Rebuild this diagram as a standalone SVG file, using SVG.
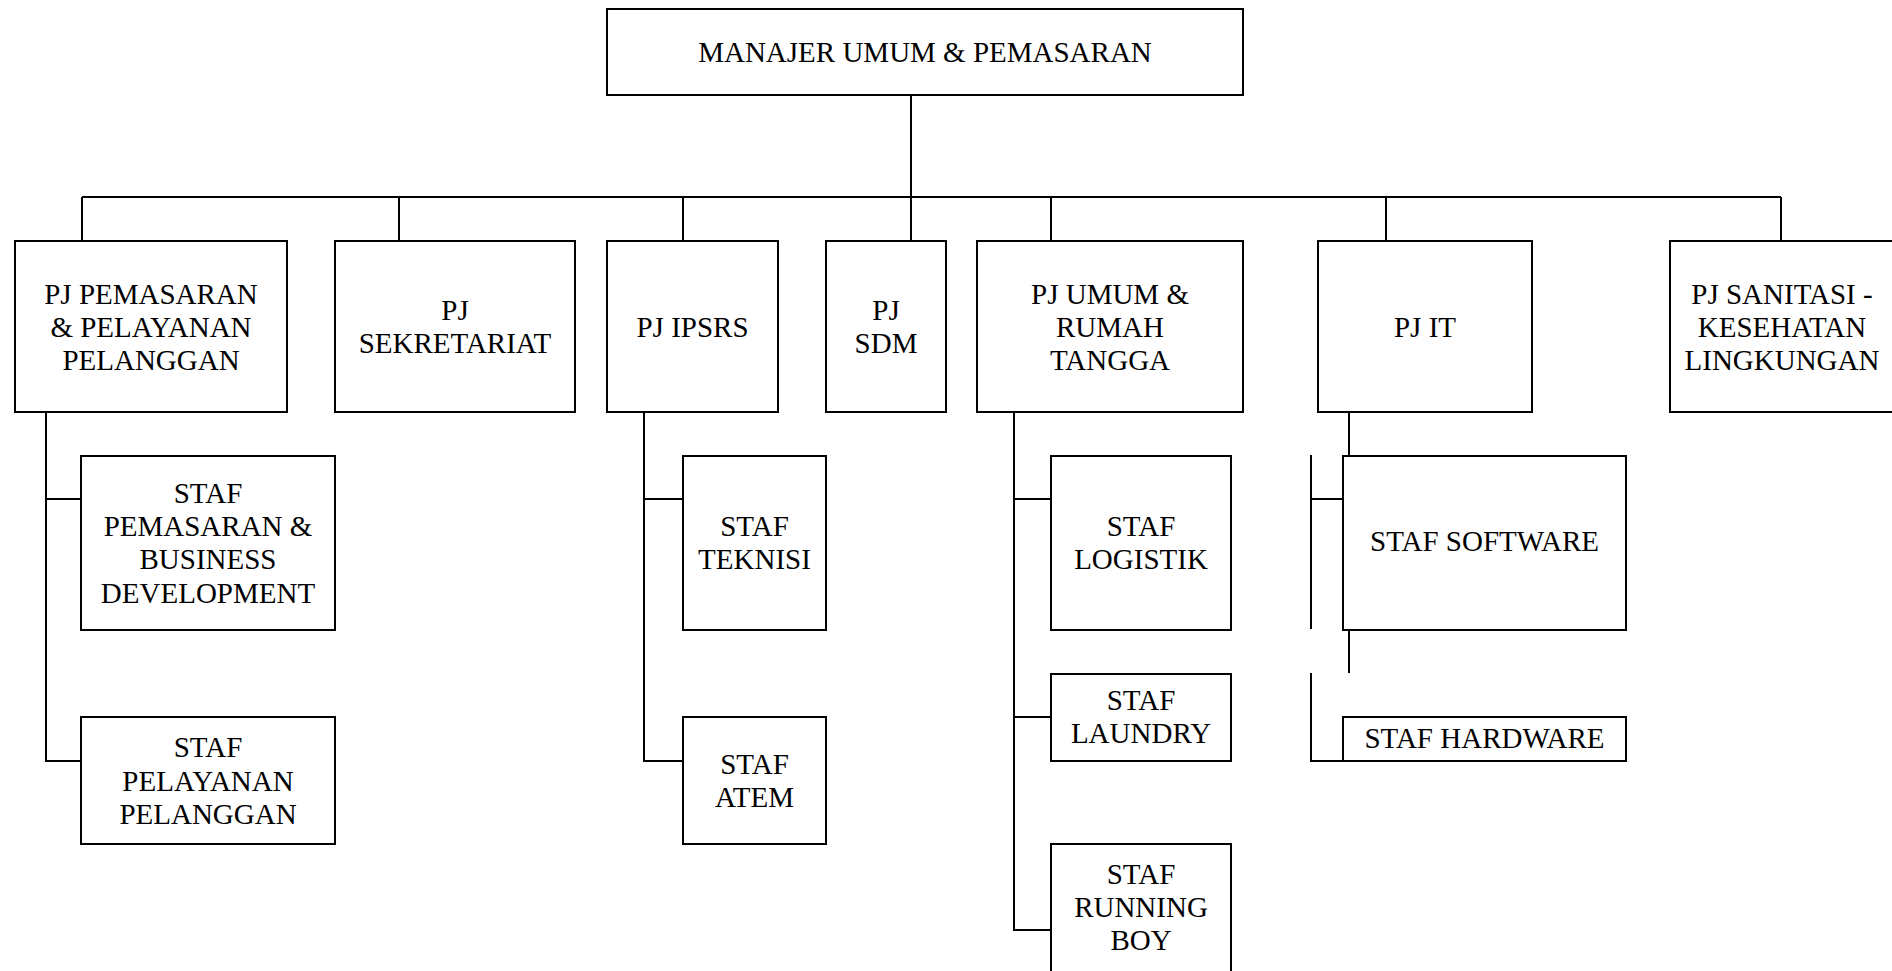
<svg xmlns="http://www.w3.org/2000/svg" width="1892" height="971" viewBox="0 0 1892 971">
<style>
.b{fill:#fff;stroke:#000;stroke-width:2}
.c{fill:none;stroke:#000;stroke-width:2}
text{font-family:"Liberation Serif","Times New Roman",serif;font-size:29px;fill:#000;text-anchor:middle}
</style>
<rect x="0" y="0" width="1892" height="971" fill="#fff"/>
<g id="connectors">
<path class="c" d="M911 95V197M82 197H1781M82 197V241M399 197V241M683 197V241M911 197V241M1051 197V241M1386 197V241M1781 197V241"/>
<path class="c" d="M46 412V761H81M46 499H81"/>
<path class="c" d="M644 412V761H683M644 499H683"/>
<path class="c" d="M1014 412V930H1051M1014 499H1051M1014 717H1051"/>
<path class="c" d="M1349 412V456M1311 455V629M1311 499H1343M1349 630V673M1311 673V761H1343"/>
</g>
<g id="manajer"><rect class="b" x="607" y="9" width="636" height="86"/><text x="925" y="62">MANAJER UMUM &amp; PEMASARAN</text></g>
<g id="pj-pemasaran"><rect class="b" x="15" y="241" width="272" height="171"/><text x="151" y="304">PJ PEMASARAN</text><text x="151" y="337">&amp; PELAYANAN</text><text x="151" y="370">PELANGGAN</text></g>
<g id="pj-sekretariat"><rect class="b" x="335" y="241" width="240" height="171"/><text x="455" y="320">PJ</text><text x="455" y="353">SEKRETARIAT</text></g>
<g id="pj-ipsrs"><rect class="b" x="607" y="241" width="171" height="171"/><text x="692.5" y="337">PJ IPSRS</text></g>
<g id="pj-sdm"><rect class="b" x="826" y="241" width="120" height="171"/><text x="886" y="320">PJ</text><text x="886" y="353">SDM</text></g>
<g id="pj-umum"><rect class="b" x="977" y="241" width="266" height="171"/><text x="1110" y="304">PJ UMUM &amp;</text><text x="1110" y="337">RUMAH</text><text x="1110" y="370">TANGGA</text></g>
<g id="pj-it"><rect class="b" x="1318" y="241" width="214" height="171"/><text x="1425" y="337">PJ IT</text></g>
<g id="pj-sanitasi"><rect class="b" x="1670" y="241" width="224" height="171"/><text x="1782" y="304">PJ SANITASI -</text><text x="1782" y="337">KESEHATAN</text><text x="1782" y="370">LINGKUNGAN</text></g>
<g id="staf-pemasaran"><rect class="b" x="81" y="456" width="254" height="174"/><text x="208" y="503">STAF</text><text x="208" y="536">PEMASARAN &amp;</text><text x="208" y="569">BUSINESS</text><text x="208" y="603">DEVELOPMENT</text></g>
<g id="staf-pelayanan"><rect class="b" x="81" y="717" width="254" height="127"/><text x="208" y="757">STAF</text><text x="208" y="790.5">PELAYANAN</text><text x="208" y="824">PELANGGAN</text></g>
<g id="staf-teknisi"><rect class="b" x="683" y="456" width="143" height="174"/><text x="754.5" y="536">STAF</text><text x="754.5" y="569">TEKNISI</text></g>
<g id="staf-atem"><rect class="b" x="683" y="717" width="143" height="127"/><text x="754.5" y="774">STAF</text><text x="754.5" y="807">ATEM</text></g>
<g id="staf-logistik"><rect class="b" x="1051" y="456" width="180" height="174"/><text x="1141" y="536">STAF</text><text x="1141" y="569">LOGISTIK</text></g>
<g id="staf-laundry"><rect class="b" x="1051" y="674" width="180" height="87"/><text x="1141" y="710">STAF</text><text x="1141" y="743">LAUNDRY</text></g>
<g id="staf-running-boy"><rect class="b" x="1051" y="844" width="180" height="200"/><text x="1141" y="884">STAF</text><text x="1141" y="917">RUNNING</text><text x="1141" y="950">BOY</text></g>
<g id="staf-software"><rect class="b" x="1343" y="456" width="283" height="174"/><text x="1484.5" y="551">STAF SOFTWARE</text></g>
<g id="staf-hardware"><rect class="b" x="1343" y="717" width="283" height="44"/><text x="1484.5" y="748">STAF HARDWARE</text></g>
</svg>
